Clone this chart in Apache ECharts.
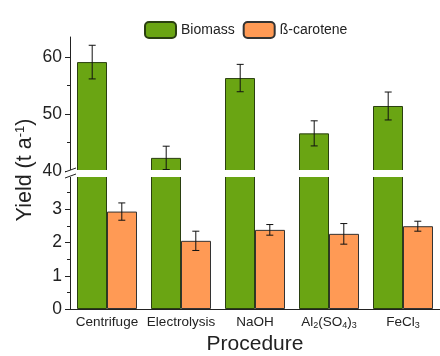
<!DOCTYPE html>
<html><head><meta charset="utf-8">
<script src="https://cdn.jsdelivr.net/npm/echarts@6/dist/echarts.min.js"></script>
<style>html,body{margin:0;padding:0;background:#fff}#c{width:440px;height:356px}</style>
</head><body><div id="c"></div>
<script>
const categories = ['Centrifuge', 'Electrolysis', 'NaOH', 'Al{s|2}(SO{s|4}){s|3}', 'FeCl{s|3}'];
const biomass = [59.1, 42.3, 56.3, 46.6, 51.4];
const biomassErr = [2.95, 2.05, 2.4, 2.2, 2.45];
const carotene = [2.93, 2.05, 2.38, 2.26, 2.49];
const caroteneErr = [0.26, 0.29, 0.16, 0.31, 0.15];
const upperTicks = [40, 50, 60];
const lowerTicks = [0, 1, 2, 3];

const GREEN = '#6AA513', ORANGE = '#FF9A55';
const FONT = 'Arial, "Liberation Sans", sans-serif';
const chart = echarts.init(document.getElementById('c'));

function errSeries(name, vals, errs, xi, yi, side) {
  return {
    type: 'custom', name: name + 'err', xAxisIndex: xi, yAxisIndex: yi, z: 5,
    data: vals.map((v, i) => [i, v - errs[i], v + errs[i]]),
    renderItem: function (params, api) {
      const bw = api.size([1, 0])[0];
      const c0 = api.coord([api.value(0), api.value(1)]);
      const c1 = api.coord([api.value(0), api.value(2)]);
      const x = c0[0] + side * bw * 0.2;
      const cap = 3.5;
      const st = { stroke: '#111', lineWidth: 1 };
      return { type: 'group', children: [
        { type: 'line', shape: { x1: x, y1: c0[1], x2: x, y2: c1[1] }, style: st },
        { type: 'line', shape: { x1: x - cap, y1: c0[1], x2: x + cap, y2: c0[1] }, style: st },
        { type: 'line', shape: { x1: x - cap, y1: c1[1], x2: x + cap, y2: c1[1] }, style: st }
      ]};
    }
  };
}

const yLabel = { fontSize: 17.5, color: '#222', fontFamily: FONT, margin: 8 };
const option = {
  animation: false,
  textStyle: { fontFamily: FONT },
  legend: {
    left: 139, top: 16, itemWidth: 31, itemHeight: 16, itemGap: 8,
    textStyle: { fontSize: 14, color: '#222', fontFamily: FONT },
    data: ['Biomass', 'ß-carotene']
  },
  grid: [
    { left: 70, width: 375, top: 37, height: 134 },
    { left: 70, width: 375, top: 176, height: 136 }
  ],
  xAxis: [
    { type: 'category', gridIndex: 0, data: categories, show: false },
    { type: 'category', gridIndex: 1, data: categories,
      axisLine: { lineStyle: { color: '#222' } },
      axisTick: { alignWithLabel: true, length: 4, lineStyle: { color: '#222' } },
      axisLabel: { interval: 0, hideOverlap: false, fontSize: 13.5, color: '#222', fontFamily: FONT, margin: 6,
        rich: { s: { fontSize: 9, verticalAlign: 'bottom', padding: [6, 0, 0, 0], color: '#222' } } },
      name: 'Procedure', nameLocation: 'middle', nameGap: 25,
      nameTextStyle: { fontSize: 21, color: '#222', fontFamily: FONT } },
    { type: 'category', gridIndex: 1, data: categories, position: 'bottom',
      axisLine: { show: false }, axisLabel: { show: false },
      axisTick: { interval: 0, length: 4, lineStyle: { color: '#222' } } }
  ],
  yAxis: [
    { type: 'value', gridIndex: 0, min: 40, max: 63.5, interval: 10,
      splitLine: { show: false },
      axisLine: { show: true, lineStyle: { color: '#222' } },
      axisTick: { show: true, length: 5, customValues: upperTicks, lineStyle: { color: '#222' } },
      minorTick: { show: true, splitNumber: 2, length: 3, lineStyle: { color: '#222' } },
      axisLabel: Object.assign({ customValues: upperTicks }, yLabel) },
    { type: 'value', gridIndex: 1, min: 0, max: 4, interval: 1,
      splitLine: { show: false },
      axisLine: { show: true, lineStyle: { color: '#222' } },
      axisTick: { show: true, length: 5, customValues: lowerTicks, lineStyle: { color: '#222' } },
      minorTick: { show: true, splitNumber: 2, length: 3, lineStyle: { color: '#222' } },
      axisLabel: Object.assign({ customValues: lowerTicks }, yLabel) }
  ],
  series: [
    { type: 'bar', name: 'Biomass', xAxisIndex: 0, yAxisIndex: 0, data: biomass,
      barWidth: 30, barGap: '0%', itemStyle: { color: GREEN, borderColor: '#2a3f10', borderWidth: 1 } },
    { type: 'bar', name: 'ß-carotene', xAxisIndex: 0, yAxisIndex: 0, data: carotene.map(() => null),
      barWidth: 30, barGap: '0%', itemStyle: { color: ORANGE, borderColor: '#333', borderWidth: 1 } },
    { type: 'bar', name: 'Biomass', xAxisIndex: 1, yAxisIndex: 1, data: biomass,
      barWidth: 30, barGap: '0%', itemStyle: { color: GREEN, borderColor: '#2a3f10', borderWidth: 1 } },
    { type: 'bar', name: 'ß-carotene', xAxisIndex: 1, yAxisIndex: 1, data: carotene,
      barWidth: 30, barGap: '0%', itemStyle: { color: ORANGE, borderColor: '#333', borderWidth: 1 } },
    errSeries('b', biomass, biomassErr, 0, 0, -1),
    errSeries('c', carotene, caroteneErr, 1, 1, 1)
  ],
  graphic: [
    { type: 'rect', z: 100, shape: { x: 66, y: 170, width: 380, height: 7 }, style: { fill: '#fff' } },
    { type: 'line', z: 101, shape: { x1: 65, y1: 172, x2: 76, y2: 168 }, style: { stroke: '#222', lineWidth: 1 } },
    { type: 'line', z: 101, shape: { x1: 65, y1: 178, x2: 76, y2: 174 }, style: { stroke: '#222', lineWidth: 1 } },
    { type: 'text', z: 101, x: 25, y: 170, rotation: Math.PI / 2,
      style: { text: 'Yield (t a{p|-1})', fontSize: 21.5, fill: '#222', fontFamily: FONT,
        align: 'center', verticalAlign: 'middle',
        rich: { p: { fontSize: 13, verticalAlign: 'top', padding: [0, 0, 9, 0], fill: '#222' } } } }
  ]
};
chart.setOption(option);
</script></body></html>
